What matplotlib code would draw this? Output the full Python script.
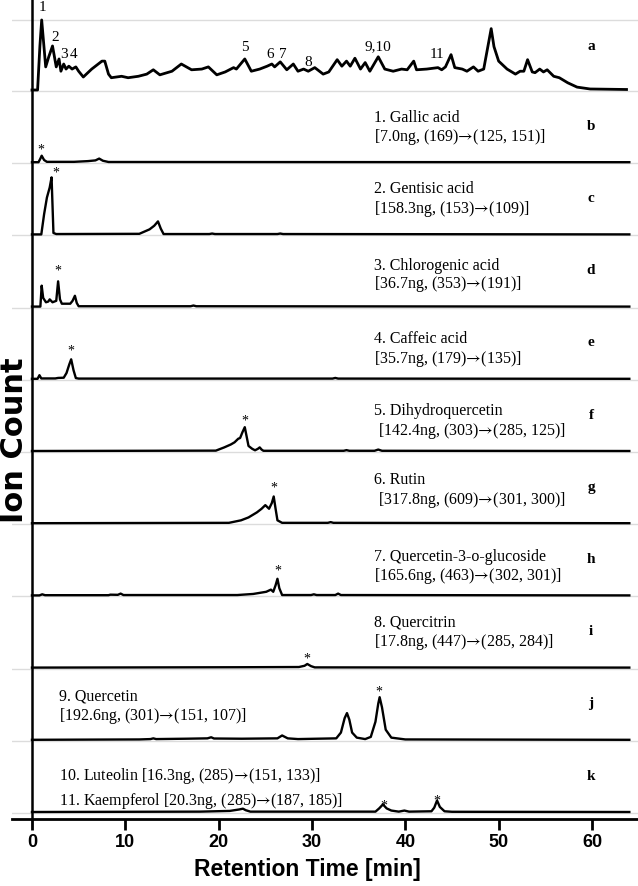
import matplotlib.pyplot as plt

# chromatograms: (retention time [min], relative signal, 100 = one panel height)
trace_a = [(0, 0), (0.6, 0), (0.85, 61), (1.04, 97), (1.47, 32), (1.8, 46), (2.2, 61), (2.6, 32),
           (2.9, 43), (3.1, 26), (3.4, 36), (3.65, 29), (3.95, 33), (4.3, 29), (4.7, 32), (5.0, 26),
           (5.5, 18), (6.4, 29), (7.5, 40), (7.8, 40), (8.2, 22), (8.5, 17), (9.6, 19), (10.3, 17),
           (11.4, 19), (12.3, 22), (13.0, 28), (13.7, 21), (15.0, 26), (16.0, 36), (17.1, 28),
           (18.2, 29), (18.9, 32), (19.8, 21), (20.7, 25), (21.6, 31), (21.9, 29), (22.8, 43),
           (23.5, 26), (24.4, 29), (25.2, 33), (25.7, 36), (26.0, 32), (26.6, 39), (27.3, 28),
           (28.0, 36), (28.5, 26), (29.1, 29), (29.6, 26), (30.3, 31), (31.2, 22), (31.8, 25),
           (32.7, 42), (33.2, 33), (33.7, 40), (34.1, 33), (34.6, 44), (35.2, 29), (35.7, 38),
           (36.2, 26), (37.1, 46), (37.8, 29), (38.7, 26), (39.6, 29), (40.2, 28), (40.9, 40),
           (41.2, 28), (42.3, 29), (43.5, 31), (43.9, 28), (44.3, 32), (44.9, 49), (45.3, 31),
           (46.1, 29), (46.6, 26), (47.3, 32), (47.8, 26), (48.4, 29), (48.8, 57), (49.2, 85),
           (49.5, 60), (50.0, 40), (50.9, 29), (51.8, 22), (52.3, 26), (52.7, 26), (53.1, 42),
           (53.6, 25), (53.9, 24), (54.4, 29), (54.8, 25), (55.2, 28), (55.9, 19), (56.5, 17),
           (57.4, 10), (58.4, 4), (59.8, 1.4), (63.7, 0.7)]
trace_b = [(0, 0), (0.7, 0), (0.9, 5), (1.04, 9), (1.3, 3), (1.6, 0.5), (4.5, 0.5), (6.0, 1.5),
           (6.8, 2.5), (7.2, 5), (7.6, 2), (8.2, 0.3), (64, 0)]
trace_c = [(0, 0), (1.0, 0), (1.3, 28), (1.6, 51), (1.9, 65), (2.1, 79), (2.3, 2), (2.6, 0.5),
           (11.5, 0.8), (12.6, 7), (13.1, 12), (13.5, 18), (13.8, 8), (14.1, 0.5), (19.0, 0.5),
           (19.3, 1.2), (19.6, 0.5), (26.3, 0.5), (26.6, 1.2), (26.9, 0.5), (64, 0)]
trace_d = [(0, 0), (0.9, 0), (1.04, 29), (1.2, 12), (1.5, 6), (1.75, 7), (1.9, 10), (2.2, 6),
           (2.6, 8), (2.8, 35), (3.0, 10), (3.2, 4), (4.1, 4), (4.35, 8), (4.6, 15), (4.8, 5),
           (5.0, 0.5), (17.0, 0.5), (17.3, 1.5), (17.6, 0.5), (64, 0)]
trace_e = [(0, 0), (0.6, 0), (0.8, 5), (1.0, 0.5), (2.5, 0.5), (2.8, 1.2), (3.4, 1.5), (3.7, 8),
           (4.0, 20), (4.2, 27), (4.45, 12), (4.7, 1), (5.0, 0.3), (32.2, 0.3), (32.5, 1.2),
           (32.8, 0.3), (64, 0)]
trace_f = [(0, 0), (19.7, 0.5), (20.6, 5), (21.3, 9), (21.7, 12), (22.1, 17), (22.3, 18),
           (22.55, 26), (22.8, 33), (23.0, 20), (23.2, 7), (23.6, 3), (23.9, 1), (24.2, 3),
           (24.4, 5), (24.6, 2), (24.8, 0.3), (33.4, 0.3), (33.7, 1.2), (34.0, 0.3), (36.7, 0.3),
           (37.1, 2), (37.5, 0.3), (64, 0)]
trace_g = [(0, 0), (21.1, 0.5), (22.4, 4), (23.2, 8), (24.1, 15), (24.6, 20), (25.0, 25),
           (25.4, 20), (25.7, 28), (25.9, 37), (26.1, 20), (26.3, 4), (26.8, 0.5), (31.7, 0.5),
           (32.0, 1.5), (32.3, 0.5), (64, 0)]
trace_h = [(0, 0), (0.8, 0), (1.1, 1.5), (1.4, 0.3), (8.2, 0.3), (8.4, 1), (9.2, 0.8), (9.5, 2.5),
           (9.8, 0.5), (22.0, 0.5), (23.7, 2), (25.1, 5), (25.6, 8), (25.85, 5), (26.1, 14),
           (26.3, 23), (26.5, 10), (26.8, 0.5), (29.9, 0.5), (30.2, 1.5), (30.5, 0.5),
           (32.5, 0.5), (32.8, 2.5), (33.1, 0.5), (64, 0)]
trace_i = [(0, 0), (22.0, 0.5), (28.6, 0.8), (29.2, 2.5), (29.5, 5), (29.9, 2), (30.3, 0.3),
           (64, 0)]
trace_j = [(0, 0), (11.5, 0.5), (12.7, 1), (13.0, 2), (13.3, 1), (16.5, 1.5), (18.8, 2),
           (19.2, 3.5), (19.5, 1.8), (22.5, 1.5), (26.3, 2), (26.8, 6), (27.4, 2), (28.5, 1),
           (32.6, 2), (33.1, 10), (33.5, 30), (33.75, 37), (34.0, 28), (34.3, 10), (34.8, 3),
           (35.7, 1), (36.3, 4), (36.8, 25), (37.1, 50), (37.25, 59), (37.5, 45), (37.9, 14),
           (38.5, 3), (40.0, 0.5), (64, 0)]
trace_k = [(0, 0), (18.0, 0.5), (21.2, 1.5), (22.2, 3.5), (22.6, 4.6), (22.9, 2.5), (23.4, 0.5),
           (36.8, 0.5), (37.2, 5), (37.6, 10.5), (38.0, 5), (38.5, 2), (39.3, 0.5), (39.9, 2),
           (40.4, 0.5), (42.8, 1), (43.1, 6), (43.4, 16), (43.7, 7), (44.2, 1), (45.0, 0.3),
           (64, 0)]
traces = [trace_a, trace_b, trace_c, trace_d, trace_e, trace_f, trace_g, trace_h, trace_i,
          trace_j, trace_k]

panel_letters = ["a", "b", "c", "d", "e", "f", "g", "h", "i", "j", "k"]

ARROW = "$→$"
compound_text = [
    None,
    ("1. Gallic acid", f"[7.0ng, (169){ARROW}(125, 151)]"),
    ("2. Gentisic acid", f"[158.3ng, (153){ARROW}(109)]"),
    ("3. Chlorogenic acid", f"[36.7ng, (353){ARROW}(191)]"),
    ("4. Caffeic acid", f"[35.7ng, (179){ARROW}(135)]"),
    ("5. Dihydroquercetin", f" [142.4ng, (303){ARROW}(285, 125)]"),
    ("6. Rutin", f" [317.8ng, (609){ARROW}(301, 300)]"),
    ("7. Quercetin-3-o-glucoside", f"[165.6ng, (463){ARROW}(302, 301)]"),
    ("8. Quercitrin", f"[17.8ng, (447){ARROW}(285, 284)]"),
    ("9. Quercetin", f"[192.6ng, (301){ARROW}(151, 107)]"),
    (f"10. Luteolin [16.3ng, (285){ARROW}(151, 133)]",
     f"11. Kaempferol [20.3ng, (285){ARROW}(187, 185)]"),
]

# peak numbers on the total ion chromatogram (a)
peak_numbers = ["1", "2", "3", "4", "5", "6", "7", "8", "9,10", "11"]
peak_number_rt = [1.1, 2.5, 3.4, 4.5, 22.8, 25.5, 26.9, 29.6, 37.1, 43.4]

# asterisks marking target peaks: (panel index, retention time)
star_panel = [1, 2, 3, 4, 5, 6, 7, 8, 9, 10, 10]
star_rt = [1.0, 2.6, 2.8, 4.2, 22.8, 25.95, 26.3, 29.5, 37.2, 37.7, 43.4]

x_ticks = [0, 10, 20, 30, 40, 50, 60]

SERIF = ["Liberation Serif", "DejaVu Serif"]
SANS = ["Liberation Sans", "DejaVu Sans"]


def main():
    plt.rcParams["mathtext.fontset"] = "stix"

    fig = plt.figure(figsize=(6.38, 8.87), dpi=100)
    ax = fig.add_axes([12 / 638, 67 / 887, 626 / 638, 820 / 887])

    n = len(traces)
    step = 100
    # vertical layout: px per unit = 0.722
    top = (n - 1) * step + 91 / 0.722
    ax.set_ylim(top - 820 / 0.722, top)
    ax.set_xlim(-2.14, 64.93)

    ax.axhline((n - 1) * step + 96.6, color="#dcdcdc", lw=1, zorder=0)
    for i, tr in enumerate(traces):
        off = (n - 1 - i) * step
        t = [p[0] for p in tr]
        v = [p[1] + off for p in tr]
        ax.axhline(off - 1.5, color="#dcdcdc", lw=1, zorder=0)
        ax.plot(t, v, color="black", lw=2.0 if i == 0 else 1.7, solid_joinstyle="round")

        letter_h = 62 if i == 0 else 51
        ax.text(59.9, off + letter_h, panel_letters[i], fontsize=11, fontweight="bold",
                family=SERIF, ha="center", va="center")

    # compound annotations
    line_h = [None, (62, 36), (64, 37), (58, 32), (57, 29), (57, 29), (61, 33), (55, 28),
              (64, 37), (62, 35), (51, 17)]
    for i, lines in enumerate(compound_text):
        if lines is None:
            continue
        off = (n - 1 - i) * step
        x0 = 2.9 if i >= 9 else 36.6
        ax.text(x0, off + line_h[i][0], lines[0], fontsize=11.5, family=SERIF, va="center")
        ax.text(x0, off + line_h[i][1], lines[1], fontsize=11.5, family=SERIF, va="center")

    # peak numbers on trace a
    top_off = (n - 1) * step
    number_h = [115, 74, 50, 50, 60, 50, 50, 40, 61, 50]
    for lab, rt, h in zip(peak_numbers, peak_number_rt, number_h):
        ax.text(rt, top_off + h, lab, fontsize=11, family=SERIF, ha="center", va="center")

    star_h = [18, 87, 50, 40, 43, 50, 35, 13, 68, 10, 16]
    for p, rt, h in zip(star_panel, star_rt, star_h):
        off = (n - 1 - p) * step
        ax.text(rt, off + h, "*", fontsize=10, family=SERIF, ha="center", va="center")

    # axes styling
    for s in ["left", "right", "top"]:
        ax.spines[s].set_visible(False)
    ax.spines["bottom"].set_linewidth(2)
    ax.axvline(0, color="black", lw=1.8)
    ax.set_yticks([])
    ax.set_xticks(x_ticks)
    ax.set_xticklabels([str(v) for v in x_ticks], fontsize=13, fontweight="bold", family=SANS)
    ax.tick_params(axis="x", direction="out", length=8, width=2, pad=2)
    ax.set_xlabel("Retention Time [min]", fontsize=16.5, fontweight="bold", family=SANS)
    ax.xaxis.set_label_coords((307 - 12) / 626, -28 / 820 * 1.0 - 0.012)

    fig.text(15 / 638, 1 - 440 / 887, "Ion Count", rotation=90, fontsize=22,
             fontweight="bold", family=["DejaVu Sans"], ha="center", va="center")

    fig.savefig("out.png", dpi=100)


if __name__ == "__main__":
    main()
